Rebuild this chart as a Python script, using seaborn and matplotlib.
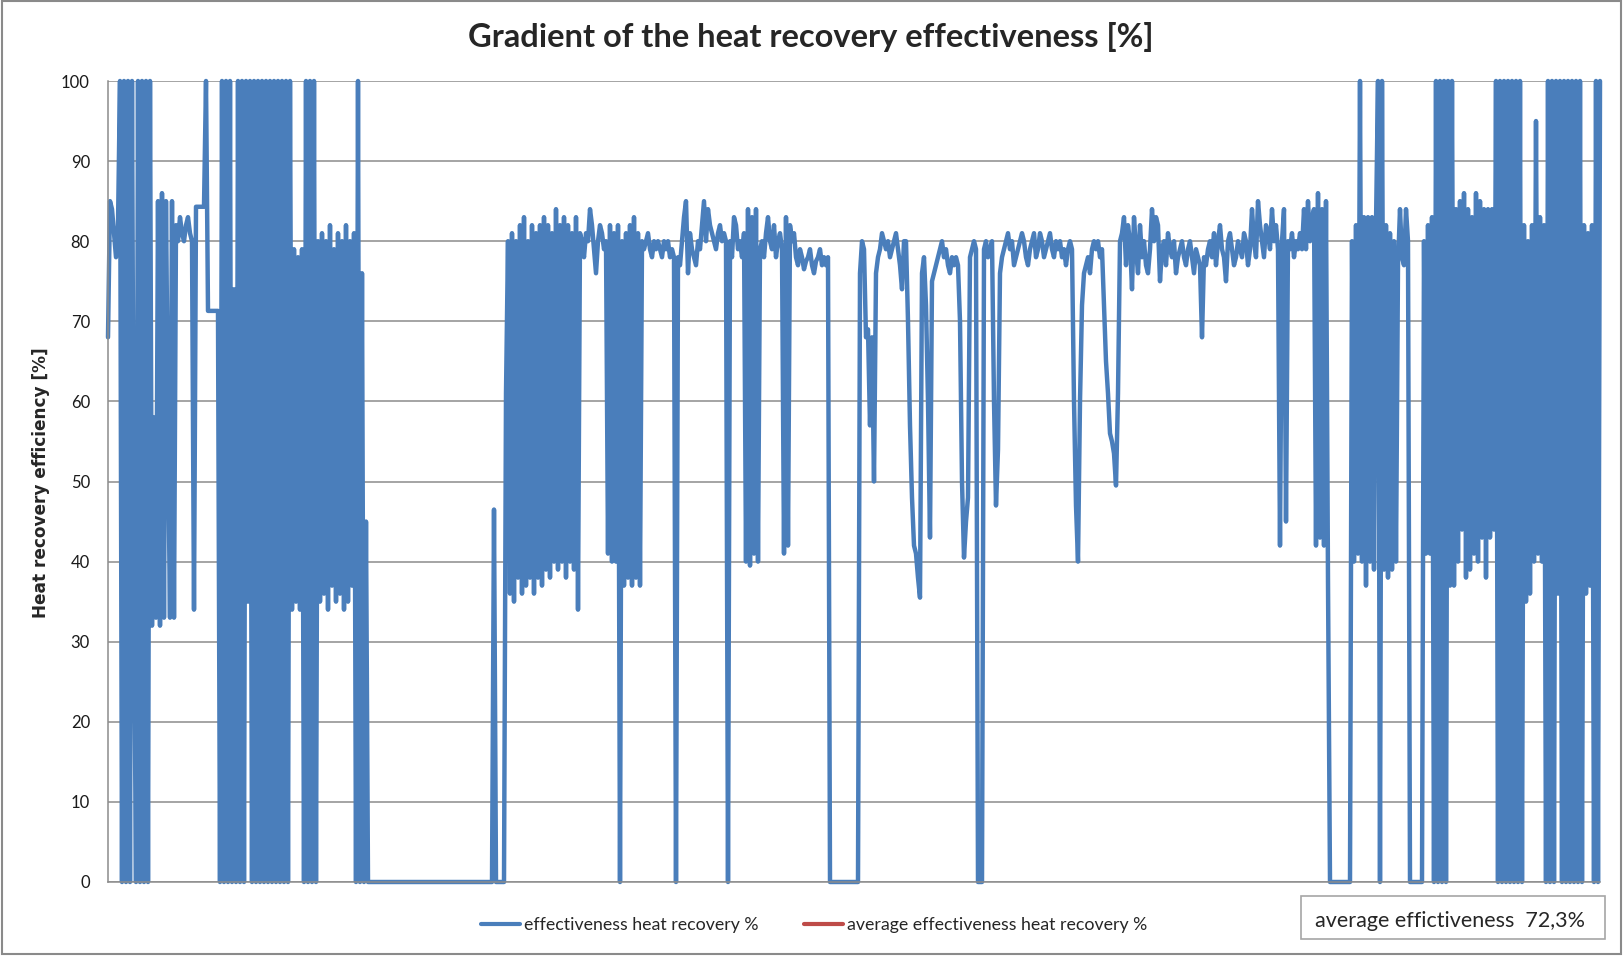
"""
Heat recovery effectiveness over the measuring period (Excel-style line chart).
"""
import matplotlib
matplotlib.use("Agg")
import matplotlib.pyplot as plt
from matplotlib.lines import Line2D
from matplotlib.patches import Rectangle
import numpy as np
import pandas as pd
import seaborn as sns

# effectiveness [%], one value per sample, block by block
block_a = [68, 85, 84, 81, 78, 82,
           100, 0, 100, 0, 100, 0, 100, 35,
           0, 100, 0, 100, 0, 100, 0, 100,
           32, 58, 33, 85, 32, 86, 33, 85, 56, 33, 85, 33,
           82, 80, 83, 81, 80, 82, 83, 81, 80, 34, 84.3,
           84.3, 84.3, 84.3, 84.3, 100, 71.3, 71.3, 71.3, 71.3, 71.3, 71.3,
           0, 100, 0, 100, 0, 100, 0, 74, 0, 100, 0, 100, 0,
           100, 35, 100, 0,
           100, 0, 100, 0, 100, 0, 100, 0, 100, 0, 100, 0, 100, 0, 100, 0,
           100, 0, 100,
           34, 79, 35, 78, 34, 79, 0, 100, 0, 100, 0, 100, 0, 80,
           35, 81, 36, 80, 34, 82, 37, 79, 35, 81, 36, 80, 34, 82, 35, 80,
           37, 81, 0, 100, 0, 76, 0, 45]
block_b = [0, 0, 0, 0, 0, 0, 0, 0, 0, 0, 0, 0, 0, 0, 0, 0, 0, 0, 0, 0, 0,
           0, 0, 0, 0, 0, 0, 0, 0, 0, 0, 0, 0, 0, 0, 0, 0, 0, 0, 0, 0, 0,
           0, 0, 0, 0, 0, 0, 0, 0, 0, 0, 0, 0, 0, 0, 0, 0, 0, 0, 0, 0, 0,
           46.5, 0, 0, 0, 0, 0, 61, 80]
block_c = [36, 81, 35, 80, 38, 82, 36, 83, 37, 80, 38, 82, 36, 81, 38, 82,
           37, 83, 39, 82, 38, 81, 40, 84, 39, 82, 40, 83, 38, 82, 40, 81,
           39, 83, 34, 81,
           80, 78, 81, 80, 84, 82, 79, 76, 80, 82, 81, 79, 80,
           41, 82, 40, 81, 40, 82, 0,
           80, 37, 81, 38, 82, 37, 83, 38, 81, 37, 80,
           79, 80, 81, 79, 78, 80, 79, 80, 79, 78, 80, 79, 80, 78, 79, 78, 0,
           78, 77, 80, 83, 85, 76, 81, 79, 78, 77, 80, 79, 82, 85, 80, 84,
           82, 81, 80, 79, 81, 82, 80, 81, 80, 0,
           80, 78, 83, 82, 79, 80, 78, 81,
           40, 84, 39.5, 83, 41, 84, 40,
           79, 80, 78, 81, 83, 80, 79, 82, 78, 80, 81, 79,
           41, 83, 42, 82, 80, 81,
           78, 77, 79, 78, 76.5, 77.5, 78, 79, 77, 76, 77.5, 78, 79, 77, 78,
           77, 78]
block_d = [0, 0, 0, 0, 0, 0, 0, 0, 0, 0, 0, 0, 0, 0, 0,
           76, 80, 79, 68, 69, 57, 68, 50, 76, 78,
           79, 81, 80, 79, 80, 78, 79, 80, 81, 79, 77, 74,
           80, 80, 70, 57, 48, 42, 41, 38, 35.5, 76, 78, 72, 60, 43, 75,
           76, 77, 78, 79, 80, 78, 79, 77, 76, 78, 77,
           78, 77, 70, 50, 40.5, 45, 48, 78, 79, 80, 79, 0, 0, 0, 79,
           80, 78, 79, 80, 60, 47, 54, 76,
           78, 79, 80, 81, 79, 80, 77, 78, 79, 80, 81, 80, 78, 77, 79, 80,
           81, 78, 79, 81, 80, 78, 79, 80, 81, 79, 78, 80, 79, 80, 78, 79,
           77, 79, 80, 79,
           60, 47, 40, 60, 72, 76, 77, 78, 76, 79, 80, 79, 80, 78, 79,
           72, 65, 61, 56, 55, 53.5, 49.5, 61, 80]
block_e = [81, 83, 77, 82, 80, 74, 83, 79, 76, 82, 78, 80, 77, 76, 79, 84,
           80, 83, 82, 75, 79, 80, 77, 81, 79, 78, 80, 76, 78, 79, 80, 78,
           77, 79, 80, 78, 76, 79, 78, 77, 68,
           78, 77, 79, 80, 78, 81, 77, 80, 82, 79, 78, 75, 80, 81, 79, 77,
           78, 80, 79, 78, 81, 80, 77, 79, 84, 80, 78, 85, 82, 80, 78, 82,
           81, 79, 84, 80, 82, 79,
           42, 80, 84, 45, 80, 79, 81, 78, 80, 79, 81, 79,
           84, 79, 85, 80, 83, 84, 42, 86, 43, 84, 42, 85, 37.5, 0,
           0, 0, 0, 0, 0, 0, 0, 0, 0, 0, 80]
block_f = [40, 82, 41, 100, 40, 83, 37, 83, 40, 83, 39, 82, 100, 0, 100,
           39, 82, 38, 81, 39, 80, 40, 77, 84, 78, 77, 84, 80, 0,
           0, 0, 0, 0, 0, 0, 80, 41, 82, 41, 83,
           0, 100, 0, 100, 0, 100, 0, 100, 37, 100, 37, 84,
           40, 85, 44, 86, 38, 84, 39, 83, 41, 86, 40, 85, 43, 84, 38,
           84, 43, 84, 44,
           100, 0, 100, 0, 100, 0, 100, 0, 100, 0, 100, 0, 100, 0,
           82, 35, 80, 36, 82, 40, 95, 41, 83, 40, 82,
           0, 100, 0, 100, 0, 100, 36, 100, 0, 100, 0, 100, 0, 100, 0, 100,
           0, 100, 0,
           82, 36, 81, 37, 82, 0, 100, 0, 100]

AVG_EFF = "72,3%"
Y_TICKS = [0, 10, 20, 30, 40, 50, 60, 70, 80, 90, 100]
LEGEND_LABELS = ["effectiveness heat recovery %",
                 "average effectiveness heat recovery %"]

BLUE = "#4a7ebb"
RED = "#be4b48"
GRID = "#8c8c8c"

eff = block_a + block_b + block_c + block_d + block_e + block_f
df = pd.DataFrame({"step": np.arange(len(eff)), "eff": eff})

sns.set_theme(style="white")
plt.rcParams["font.family"] = ["Lato", "DejaVu Sans"]

W, H = 1624, 959
fig = plt.figure(figsize=(W / 100, H / 100), dpi=100)
ax = fig.add_axes([108 / W, 77 / H, 1492 / W, 801 / H])

sns.lineplot(data=df, x="step", y="eff", ax=ax, color=BLUE, linewidth=3.2,
             legend=False)
for ln in ax.get_lines():
    ln.set_solid_joinstyle("round")
    ln.set_clip_on(False)

ax.set_xlim(0, len(eff) - 1)
ax.set_ylim(0, 100)
ax.set_yticks(Y_TICKS)
ax.set_xticks([])
ax.yaxis.grid(True, color=GRID, linewidth=1.1)
ax.set_axisbelow(True)
for s in ["top", "right"]:
    ax.spines[s].set_visible(False)
for s in ["left", "bottom"]:
    ax.spines[s].set_color(GRID)
    ax.spines[s].set_linewidth(1.1)
ax.tick_params(axis="y", length=0, pad=13, labelsize=12, labelcolor="#1a1a1a")
ax.set_xlabel("")
ax.set_ylabel("")

fig.text(811 / W, 1 - 37 / H, "Gradient of the heat recovery effectiveness [%]",
         ha="center", va="center", fontsize=23.5, weight="bold")
fig.text(41 / W, 1 - 483 / H, "Heat recovery efficiency [%]", rotation=90,
         ha="center", va="center", fontsize=12.2, weight="bold",
         family="DejaVu Sans")

handles = [Line2D([], [], color=BLUE, lw=3), Line2D([], [], color=RED, lw=3)]
fig.legend(handles, LEGEND_LABELS, loc="center", bbox_to_anchor=(814 / W, 1 - 925 / H),
           ncol=2, frameon=False, fontsize=12.8, handlelength=2.2,
           handletextpad=0.2, columnspacing=2.6)

fig.patches.append(Rectangle((1301 / W, 1 - 939 / H), 304 / W, 43 / H,
                             transform=fig.transFigure, fill=False,
                             edgecolor="#a6a6a6", lw=1.2))
fig.text(1315 / W, 1 - 921 / H, f"average effictiveness  {AVG_EFF}",
         ha="left", va="center", fontsize=15.5)

fig.patches.append(Rectangle((2 / W, 5 / H), 1619 / W, 953 / H,
                             transform=fig.transFigure, fill=False,
                             edgecolor="#8a8a8a", lw=1.5))

fig.savefig("out.png", dpi=100)
plt.close(fig)
